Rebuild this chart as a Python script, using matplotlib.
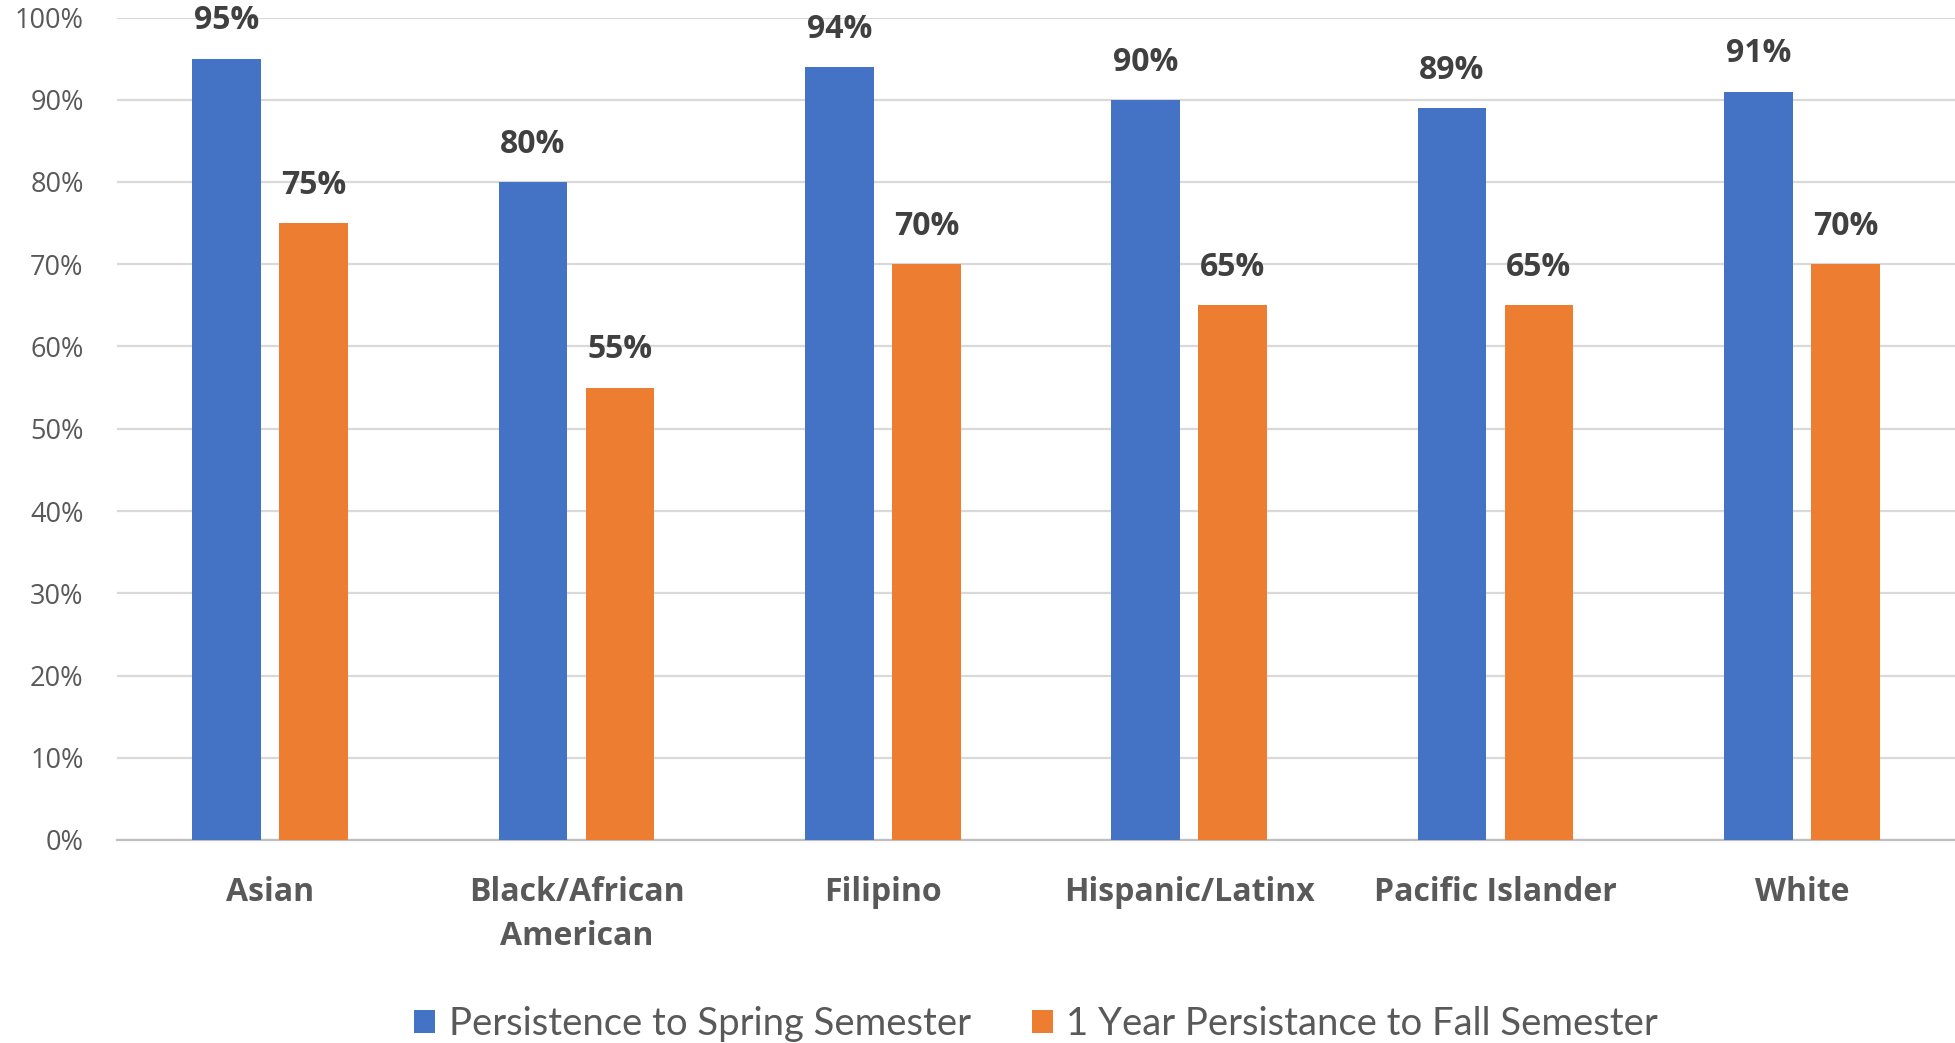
import numpy as np
import matplotlib
matplotlib.use("Agg")
import matplotlib.pyplot as plt
from matplotlib.ticker import PercentFormatter

# ── Data ─────────────────────────────────────────────────────────────────────
groups = ["Asian", "Black/African\nAmerican", "Filipino",
          "Hispanic/Latinx", "Pacific Islander", "White"]
spring = [0.95, 0.80, 0.94, 0.90, 0.89, 0.91]
fall = [0.75, 0.55, 0.70, 0.65, 0.65, 0.70]
series_names = ["Persistence to Spring Semester",
                "1 Year Persistance to Fall Semester"]
y_ticks = np.arange(0, 1.01, 0.1)

BLUE, ORANGE = "#4472C4", "#ED7D31"
GRID = "#D9D9D9"

fig = plt.figure(figsize=(19.55, 10.43), dpi=100)
ax = fig.add_axes([117 / 1955, 1 - 840 / 1043, 1 - 117 / 1955, (840 - 17.5) / 1043])

x = np.arange(len(groups))
w = 0.224
off = 0.142
b1 = ax.bar(x - off, spring, w, color=BLUE, label=series_names[0], zorder=3)
b2 = ax.bar(x + off, fall, w, color=ORANGE, label=series_names[1], zorder=3)

# data labels above each bar
for bars, vals in [(b1, spring), (b2, fall)]:
    for rect, v in zip(bars, vals):
        ax.annotate(f"{v:.0%}", (rect.get_x() + rect.get_width() / 2, v),
                    xytext=(0, 21), textcoords="offset points",
                    ha="center", va="baseline", fontsize=23,
                    fontweight="bold", color="#404040", family="Open Sans")

ax.set_xlim(-0.5, len(groups) - 0.5)
ax.set_ylim(0, 1)
ax.set_yticks(y_ticks)
ax.yaxis.set_major_formatter(PercentFormatter(1.0, decimals=0))
ax.set_xticks(x)
ax.set_xticklabels(groups, fontsize=23, fontweight="bold", color="#595959",
                   family="Open Sans", linespacing=1.45)
for lab in ax.get_yticklabels():
    lab.set_family("Open Sans")
    lab.set_fontsize(19.5)
    lab.set_color("#595959")
ax.tick_params(axis="y", length=0, pad=24)
ax.tick_params(axis="x", length=0, pad=26)

ax.grid(axis="y", color=GRID, linewidth=1.6, zorder=0)
for side in ["top", "right", "left"]:
    ax.spines[side].set_visible(False)
ax.spines["bottom"].set_color("#BFBFBF")
ax.spines["bottom"].set_linewidth(1.6)

fig.legend(loc="center", bbox_to_anchor=(1036 / 1955, 0.018), ncol=2,
           frameon=False, prop={"family": "Lato", "size": 27.5},
           labelcolor="#595959", handlelength=0.55, handleheight=0.55,
           handletextpad=0.35, columnspacing=1.6, borderaxespad=0)

fig.savefig("out.png", dpi=100)
